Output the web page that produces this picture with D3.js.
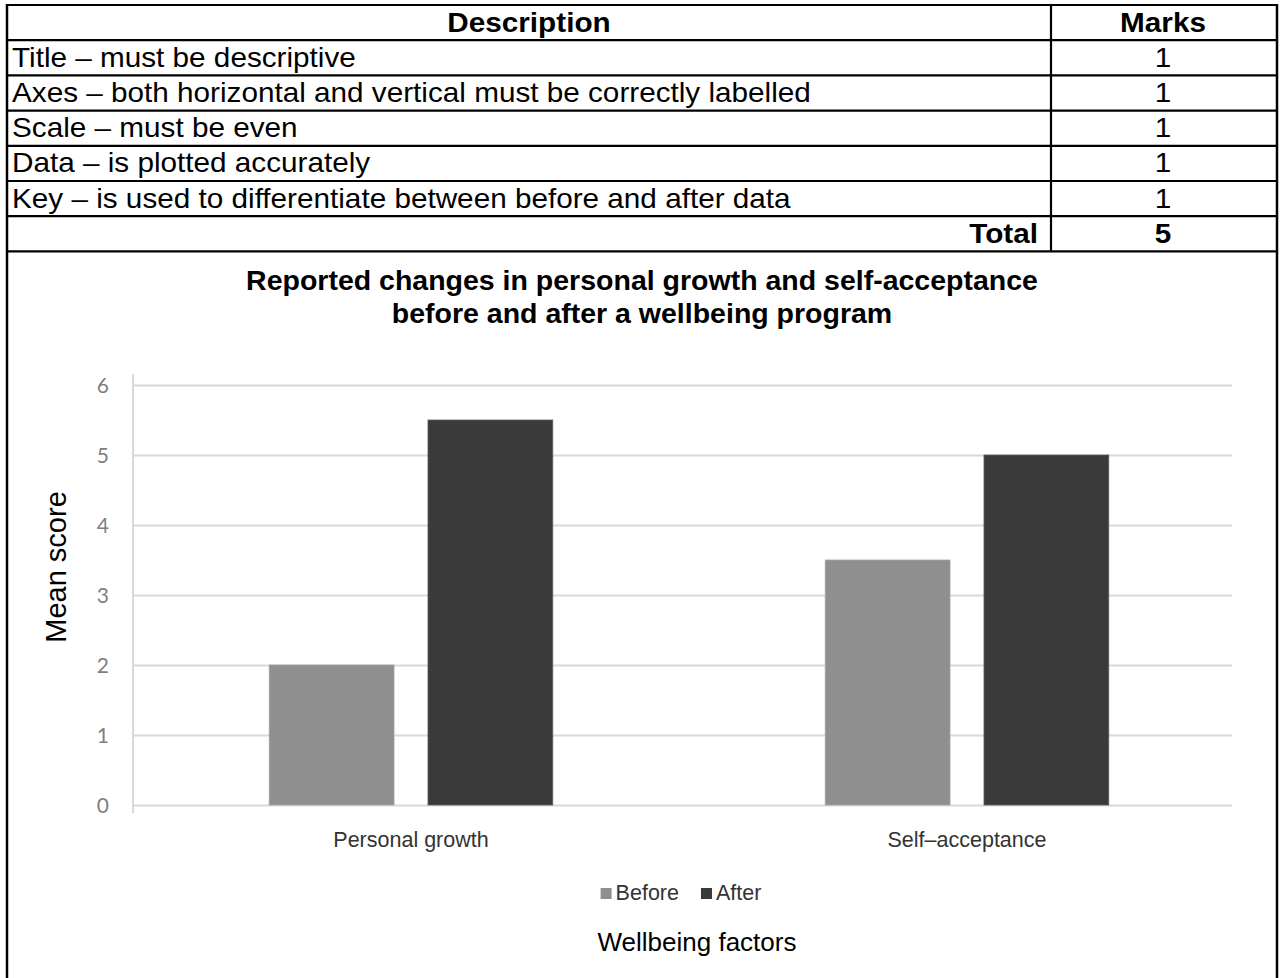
<!DOCTYPE html>
<html>
<head>
<meta charset="utf-8">
<script src="https://cdn.jsdelivr.net/npm/d3@7"></script>
<style>
  html, body { margin: 0; padding: 0; background: #fff; }
  svg { display: block; }
</style>
</head>
<body>
<svg id="chart" width="1281" height="978"></svg>
<script>
// ---- Data ----
const tableHeader = ["Description", "Marks"];
const criteria = [
  "Title \u2013 must be descriptive",
  "Axes \u2013 both horizontal and vertical must be correctly labelled",
  "Scale \u2013 must be even",
  "Data \u2013 is plotted accurately",
  "Key \u2013 is used to differentiate between before and after data"
];
const marks = [1, 1, 1, 1, 1];
const totalLabel = "Total";
const totalMarks = 5;

const chartTitle = ["Reported changes in personal growth and self-acceptance",
                    "before and after a wellbeing program"];
const categories = ["Personal growth", "Self\u2013acceptance"];
const seriesNames = ["Before", "After"];
const beforeValues = [2, 3.5];
const afterValues = [5.5, 5];
const yTicks = [0, 1, 2, 3, 4, 5, 6];
const yLabel = "Mean score";
const xLabel = "Wellbeing factors";

// ---- Layout ----
const svg = d3.select("#chart");
const frameL = 7, frameR = 1277, frameT = 5, frameB = 978;
const colDiv = 1051;
const rowH = 35.2;
const nRows = criteria.length + 2;
const rowY = d3.range(nRows + 1).map(i => frameT + i * rowH);
const tableBottom = rowY[nRows];
const tableFont = "'Liberation Sans', Arial, sans-serif";
const tFs = 27, tSx = 1.1, baseOff = 26.5;

const g = svg.append("g");
g.selectAll("line.row").data(rowY).join("line")
  .attr("x1", frameL).attr("x2", frameR)
  .attr("y1", d => d).attr("y2", d => d)
  .attr("stroke", "#000").attr("stroke-width", 2.2);
g.append("line").attr("x1", colDiv).attr("x2", colDiv)
  .attr("y1", frameT).attr("y2", tableBottom)
  .attr("stroke", "#000").attr("stroke-width", 2.2);
[frameL, frameR].forEach(x => g.append("line").attr("x1", x).attr("x2", x)
  .attr("y1", frameT - 1).attr("y2", frameB)
  .attr("stroke", "#000").attr("stroke-width", 2.5));

const descCx = (frameL + colDiv) / 2, marksCx = 1163;
function cell(x, yy, txt, anchor, bold) {
  g.append("text").attr("transform", `translate(${x},${yy}) scale(${tSx},1)`)
    .attr("text-anchor", anchor).attr("font-family", tableFont)
    .attr("font-weight", bold ? "bold" : "normal").attr("font-size", tFs).text(txt);
}
cell(descCx, rowY[0] + baseOff, tableHeader[0], "middle", true);
cell(marksCx, rowY[0] + baseOff, tableHeader[1], "middle", true);
criteria.forEach((c, i) => {
  cell(frameL + 5, rowY[i + 1] + baseOff, c, "start", false);
  cell(marksCx, rowY[i + 1] + baseOff, marks[i], "middle", false);
});
cell(colDiv - 13, rowY[nRows - 1] + baseOff, totalLabel, "end", true);
cell(marksCx, rowY[nRows - 1] + baseOff, totalMarks, "middle", true);

// ---- Chart ----
const cx = (frameL + frameR) / 2;
chartTitle.forEach((t, i) => {
  svg.append("text").attr("x", cx).attr("y", 290 + i * 33)
    .attr("text-anchor", "middle").attr("font-family", tableFont)
    .attr("font-weight", "bold").attr("font-size", 28.5).text(t);
});

const plotL = 133, plotR = 1245, plotT = 385, plotB = 805;
const gridR = 1232;
const y = d3.scaleLinear().domain([0, 6]).range([plotB, plotT]);
const x0 = d3.scaleBand().domain(categories).range([plotL, plotR])
  .paddingInner(0.49).paddingOuter(0.245);
const x1 = d3.scaleBand().domain(seriesNames).range([0, x0.bandwidth()])
  .paddingInner(0.214).paddingOuter(0);
const colors = d3.scaleOrdinal().domain(seriesNames).range(["#8f8f8f", "#3a3a3a"]);

const yAxis = d3.axisLeft(y).tickValues(yTicks).tickFormat(d3.format("d"))
  .tickSize(-(gridR - plotL)).tickPadding(24);
const ya = svg.append("g").attr("transform", `translate(${plotL},0)`).call(yAxis);
ya.select(".domain").remove();
ya.selectAll(".tick line").attr("stroke", "#d9d9d9").attr("stroke-width", 1.8);
ya.selectAll(".tick text").attr("font-family", "Lato, 'Open Sans', sans-serif")
  .attr("font-size", 21).attr("fill", "#7f7f7f").attr("dy", "0.36em");

svg.append("line").attr("x1", plotL).attr("x2", plotL)
  .attr("y1", y(6) - 11).attr("y2", y(0) + 8)
  .attr("stroke", "#d9d9d9").attr("stroke-width", 2);

const barData = [];
categories.forEach((c, i) => {
  barData.push({cat: c, s: seriesNames[0], v: beforeValues[i]});
  barData.push({cat: c, s: seriesNames[1], v: afterValues[i]});
});
svg.append("g").selectAll("rect").data(barData).join("rect")
  .attr("x", d => x0(d.cat) + x1(d.s))
  .attr("y", d => y(d.v))
  .attr("width", x1.bandwidth())
  .attr("height", d => y(0) - y(d.v))
  .attr("fill", d => colors(d.s))
  .attr("stroke", d => d.s === "Before" ? "#a3a3a3" : "#5e5e5e")
  .attr("stroke-width", 0.8);

const xAxis = d3.axisBottom(x0).tickSize(0).tickPadding(0);
const xa = svg.append("g").attr("transform", `translate(0,${plotB})`).call(xAxis);
xa.select(".domain").remove();
xa.selectAll(".tick text").attr("font-family", tableFont).attr("font-size", 21.5)
  .attr("fill", "#333").attr("dy", 0).attr("y", 42);

// legend
const legFs = 21.5, sw = 11, gapT = 4, gapItem = 22, legCx = 681;
const leg = svg.append("g");
const items = seriesNames.map(s => {
  const gg = leg.append("g");
  gg.append("rect").attr("x", 0).attr("y", -sw - 1).attr("width", sw).attr("height", sw)
    .attr("fill", colors(s));
  const t = gg.append("text").attr("x", sw + gapT).attr("y", 0)
    .attr("font-family", tableFont).attr("font-size", legFs).attr("fill", "#333").text(s);
  return {gg, w: sw + gapT + t.node().getComputedTextLength()};
});
const totalW = d3.sum(items, d => d.w) + gapItem * (items.length - 1);
let lx = legCx - totalW / 2;
items.forEach(it => { it.gg.attr("transform", `translate(${lx},900)`); lx += it.w + gapItem; });

svg.append("text").attr("x", 697).attr("y", 951)
  .attr("text-anchor", "middle").attr("font-family", tableFont)
  .attr("font-size", 26).text(xLabel);
svg.append("text").attr("transform", `translate(66,567) rotate(-90)`)
  .attr("text-anchor", "middle").attr("font-family", tableFont)
  .attr("font-size", 29).text(yLabel);
</script>
</body>
</html>
